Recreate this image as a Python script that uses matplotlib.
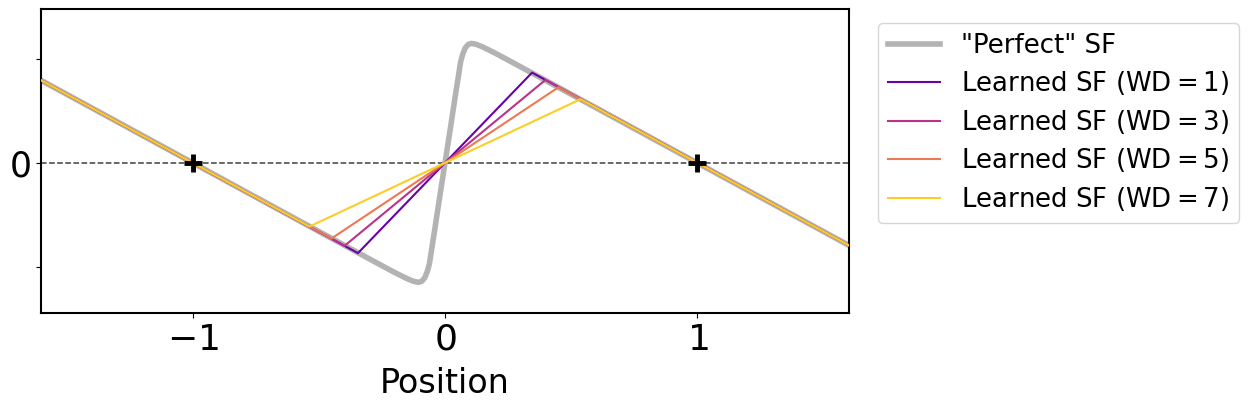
import numpy as np
import matplotlib.pyplot as plt

plt.switch_backend('Agg')

# "perfect" SF (smooth sawtooth)
perfect_x = [-1.6, -0.3, -0.2, -0.15, -0.125, -0.105, -0.092, -0.08, -0.07, -0.062, -0.055,
             -0.04, -0.02, 0.0, 0.02, 0.04, 0.055, 0.062, 0.07, 0.08, 0.092, 0.105, 0.125,
             0.15, 0.2, 0.3, 1.6]
perfect_y = [0.79, -0.92, -1.05, -1.11, -1.135, -1.145, -1.135, -1.1, -1.04, -0.97, -0.86,
             -0.63, -0.31, 0.0, 0.31, 0.63, 0.86, 0.97, 1.04, 1.1, 1.135, 1.145, 1.135,
             1.11, 1.05, 0.92, -0.79]

# learned SF corners for each weight decay
wd_values = [1, 3, 5, 7]
learned_x = [
    [-1.6, -0.345, 0.345, 1.6],
    [-1.6, -0.398, 0.398, 1.6],
    [-1.6, -0.45, 0.45, 1.6],
    [-1.6, -0.537, 0.537, 1.6],
]
learned_y = [
    [0.79, -0.865, 0.865, -0.79],
    [0.79, -0.795, 0.795, -0.79],
    [0.79, -0.725, 0.725, -0.79],
    [0.79, -0.61, 0.61, -0.79],
]

# equilibrium positions
eq_x = [-1, 1]
eq_y = [0, 0]

fig = plt.figure(figsize=(12.5, 4.12), dpi=100)
ax = fig.add_axes([0.033, 0.24, 0.646, 0.737])

ax.axhline(0, color='k', ls='--', lw=1.1, alpha=0.75, zorder=1)
ax.plot(perfect_x, perfect_y, color='0.7', lw=4, label='"Perfect" SF', zorder=2,
        solid_joinstyle='round')

colors = plt.cm.plasma(np.linspace(0.2, 0.9, len(wd_values)))
for wd, xs, ys, c in zip(wd_values, learned_x, learned_y, colors):
    ax.plot(xs, ys, color=c, lw=1.5, label=f'Learned SF $(\\mathrm{{WD}} = {wd})$', zorder=3)

ax.plot(eq_x, eq_y, ls='none', marker='+', ms=13, mew=3.5, color='k', zorder=4)

ax.set_xlim(-1.6, 1.6)
ax.set_ylim(-1.44, 1.47)
ax.set_xticks([-1, 0, 1])
ax.set_xticklabels(['$-1$', '$0$', '$1$'])
ax.set_yticks([-1, 0, 1])
ax.set_yticklabels(['', '0', ''])
ax.tick_params(axis='x', labelsize=26)
ax.tick_params(axis='y', labelsize=25)
ax.set_xlabel('Position', fontsize=24, labelpad=7)
for s in ax.spines.values():
    s.set_linewidth(1.5)

fig.legend(loc='upper left', bbox_to_anchor=(0.702, 0.945), borderaxespad=0,
           fontsize=18.7, frameon=True, handlelength=2.0, labelspacing=0.4)

fig.savefig('out.png', dpi=100)
